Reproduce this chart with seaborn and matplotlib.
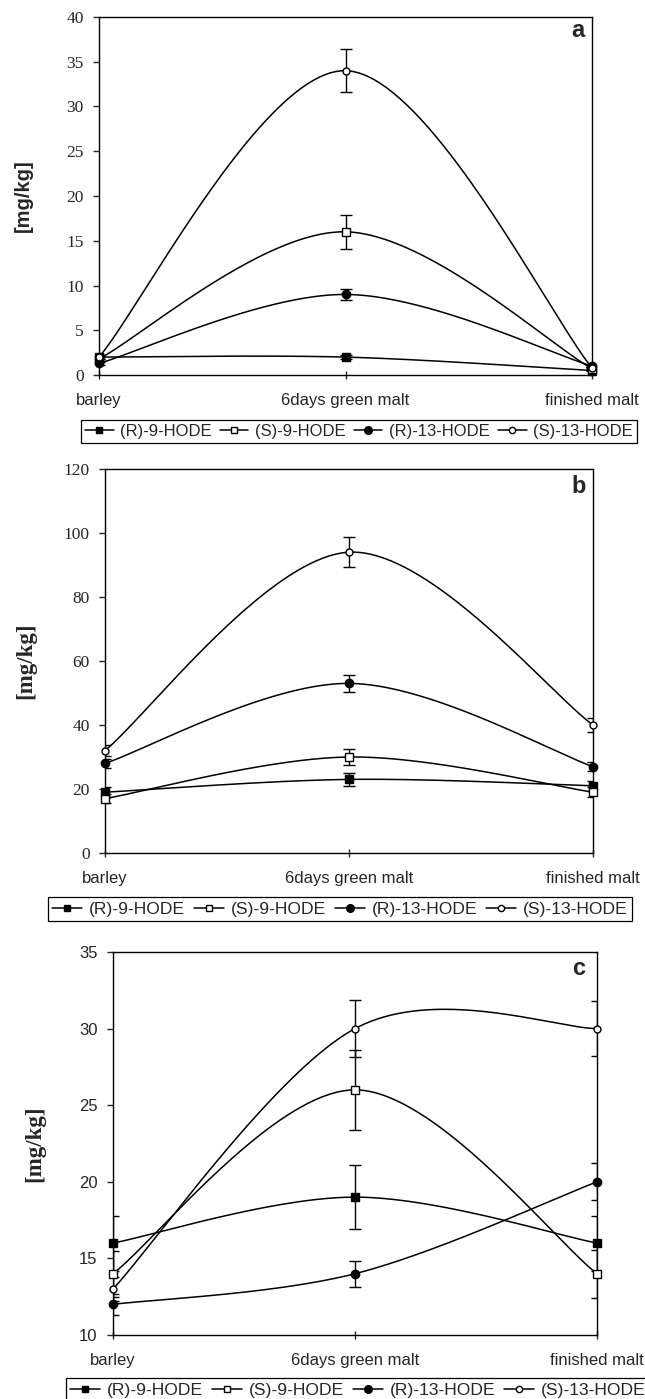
import numpy as np
import pandas as pd
import seaborn as sns
import matplotlib
matplotlib.use("Agg")
import matplotlib.pyplot as plt
from matplotlib.lines import Line2D

stages = ["barley", "6days green malt", "finished malt"]
series_names = ["(R)-9-HODE", "(S)-9-HODE", "(R)-13-HODE", "(S)-13-HODE"]

# panel a
a_r9 = [2.0, 2.0, 0.5]
a_s9 = [1.8, 16.0, 0.7]
a_r13 = [1.3, 9.0, 1.0]
a_s13 = [2.0, 34.0, 0.8]
a_r9_err = [0.2, 0.2, 0.1]
a_s9_err = [0.2, 1.9, 0.1]
a_r13_err = [0.2, 0.6, 0.1]
a_s13_err = [0.2, 2.4, 0.1]

# panel b
b_r9 = [19.0, 23.0, 21.0]
b_s9 = [17.0, 30.0, 19.0]
b_r13 = [28.0, 53.0, 27.0]
b_s13 = [32.0, 94.0, 40.0]
b_r9_err = [1.5, 2.0, 1.5]
b_s9_err = [1.5, 2.6, 1.5]
b_r13_err = [1.4, 2.7, 1.3]
b_s13_err = [1.6, 4.7, 2.1]

# panel c
c_r9 = [16.0, 19.0, 16.0]
c_s9 = [14.0, 26.0, 14.0]
c_r13 = [12.0, 14.0, 20.0]
c_s13 = [13.0, 30.0, 30.0]
c_r9_err = [1.8, 2.1, 1.8]
c_s9_err = [1.5, 2.6, 1.56]
c_r13_err = [0.7, 0.84, 1.2]
c_s13_err = [0.8, 1.86, 1.8]

# marker style per series: (marker, face colour, size)
styles = {
    "(R)-9-HODE": ("s", "black", 5.5),
    "(S)-9-HODE": ("s", "white", 5.5),
    "(R)-13-HODE": ("o", "black", 6),
    "(S)-13-HODE": ("o", "white", 5),
}


def smooth(xs, ys, n=80):
    # excel-like bezier smoothing through the points
    P = np.column_stack([xs, ys]).astype(float)
    pts = np.vstack([P[0], P, P[-1]])
    out = []
    t = np.linspace(0, 1, n)[:, None]
    for i in range(len(P) - 1):
        p0, p1, p2, p3 = pts[i], pts[i + 1], pts[i + 2], pts[i + 3]
        c1 = p1 + (p2 - p0) / 6
        c2 = p2 - (p3 - p1) / 6
        seg = (1 - t) ** 3 * p1 + 3 * (1 - t) ** 2 * t * c1 + 3 * (1 - t) * t ** 2 * c2 + t ** 3 * p2
        out.append(seg if i == 0 else seg[1:])
    return np.vstack(out)


def panel_frame(values, errors):
    rows = []
    for name, vals, errs in zip(series_names, values, errors):
        for i, (v, e) in enumerate(zip(vals, errs)):
            rows.append({"series": name, "stage": i, "value": v, "err": e})
    return pd.DataFrame(rows)


sns.set_style("ticks")
plt.rcParams["font.family"] = ["Liberation Sans", "DejaVu Sans"]
plt.rcParams["axes.linewidth"] = 1.0
plt.rcParams["axes.edgecolor"] = "black"

W, H = 645, 1399
fig = plt.figure(figsize=(W / 100, H / 100), dpi=100)


def px_axes(left, right, top, bottom):
    return fig.add_axes([left / W, 1 - bottom / H, (right - left) / W, (bottom - top) / H])


panels = [
    dict(df=panel_frame([a_r9, a_s9, a_r13, a_s13], [a_r9_err, a_s9_err, a_r13_err, a_s13_err]),
         box=(99, 592, 17, 375), ylim=(0, 40), step=5, letter="a", letter_pos=(0.984, 0.944),
         tickfont="Liberation Serif", ticksize=12.5, labelfont="Liberation Sans", labelsize=14.5,
         labelx=-0.154, legend=(81, 420), legsize=12),
    dict(df=panel_frame([b_r9, b_s9, b_r13, b_s13], [b_r9_err, b_s9_err, b_r13_err, b_s13_err]),
         box=(105, 593, 469, 853), ylim=(0, 120), step=20, letter="b", letter_pos=(0.986, 0.9375),
         tickfont="Liberation Serif", ticksize=12.5, labelfont="Liberation Serif", labelsize=16.5,
         labelx=-0.162, legend=(48, 897), legsize=12.6),
    dict(df=panel_frame([c_r9, c_s9, c_r13, c_s13], [c_r9_err, c_s9_err, c_r13_err, c_s13_err]),
         box=(113, 597, 952, 1335), ylim=(10, 35), step=5, letter="c", letter_pos=(0.975, 0.94),
         tickfont="Liberation Sans", ticksize=12, labelfont="Liberation Serif", labelsize=16.5,
         labelx=-0.161, legend=(66, 1378), legsize=12.6),
]

for p in panels:
    ax = px_axes(*p["box"])
    df = p["df"]
    for name in series_names:
        sub = df[df["series"] == name]
        curve = smooth(sub["stage"].values, sub["value"].values)
        sns.lineplot(x=curve[:, 0], y=curve[:, 1], ax=ax, color="black", lw=1.1,
                     sort=False, estimator=None, legend=False)
    for name in series_names:
        sub = df[df["series"] == name]
        m, fc, ms = styles[name]
        ax.errorbar(sub["stage"], sub["value"], yerr=sub["err"], fmt="none",
                    ecolor="black", elinewidth=1.0, capsize=4, capthick=1.0, zorder=3)
        ax.plot(sub["stage"], sub["value"], ls="none", marker=m, mfc=fc, mec="black",
                mew=1.0, ms=ms, zorder=4, clip_on=False)

    ax.set_xlim(0, 2)
    ax.set_ylim(*p["ylim"])
    ax.set_yticks(np.arange(p["ylim"][0], p["ylim"][1] + 0.1, p["step"]))
    ax.set_xticks([0, 1, 2])
    ax.set_xticklabels(stages, fontsize=12, family=["Liberation Sans", "DejaVu Sans"])
    for lab in ax.get_yticklabels():
        lab.set_family([p["tickfont"], "DejaVu Sans"])
        lab.set_fontsize(p["ticksize"])
    ax.tick_params(axis="y", direction="out", length=4, width=1, pad=7)
    ax.tick_params(axis="x", direction="inout", length=6, width=1, pad=10)
    ax.set_xlabel("")
    ax.set_ylabel("[mg/kg]", fontsize=p["labelsize"], fontweight="bold",
                  family=[p["labelfont"], "DejaVu Sans"], va="center")
    ax.yaxis.set_label_coords(p["labelx"], 0.5)
    for s in ax.spines.values():
        s.set_visible(True)
        s.set_color("black")
    lx, ly = p["letter_pos"]
    ax.text(lx, ly, p["letter"], transform=ax.transAxes, ha="right", va="baseline",
            fontsize=17, fontweight="bold")

    handles = []
    for name in series_names:
        m, fc, ms = styles[name]
        handles.append(Line2D([0], [0], color="black", lw=1.1, marker=m, mfc=fc,
                              mec="black", ms=ms - 0.5))
    lx0, ly0 = p["legend"]
    leg = fig.legend(handles, series_names, loc="upper left", ncol=4,
                     bbox_to_anchor=(lx0 / W, 1 - ly0 / H), bbox_transform=fig.transFigure,
                     fontsize=p["legsize"], frameon=True, fancybox=False, framealpha=1,
                     edgecolor="black", borderpad=0.25, borderaxespad=0,
                     handlelength=1.7, handletextpad=0.4, columnspacing=0.5)
    leg.get_frame().set_linewidth(0.9)

fig.savefig("out.png", dpi=100)
